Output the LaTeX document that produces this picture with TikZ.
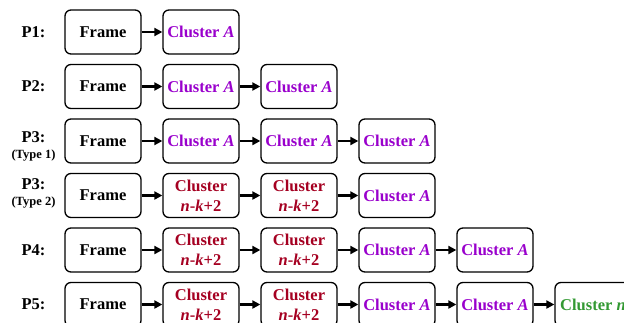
\documentclass[tikz,border=0pt]{standalone}
\usepackage{fontspec}
\setmainfont{Liberation Serif}
\usetikzlibrary{arrows.meta}
\definecolor{clA}{RGB}{153,0,204}
\definecolor{clN}{RGB}{165,0,33}
\definecolor{clM}{RGB}{51,153,51}
\tikzset{
    box/.style={draw, line width=1.3pt, rounded corners=6pt, minimum width=76pt, minimum height=44pt,
        inner sep=0pt, align=center, font=\bfseries\fontsize{16.5}{20}\selectfont},
    clustA/.style={box, text=clA},
    clustN/.style={box, text=clN},
    clustM/.style={box, text=clM},
    flow/.style={-{Triangle[length=8pt,width=8pt]}, line width=2.2pt},
    plabel/.style={align=center, font=\bfseries\fontsize{16.5}{20}\selectfont}
}
\newcommand{\cA}{Cluster \textit{A}}
\newcommand{\cN}{Cluster\\\textit{n}-\textit{k}+2}
\newcommand{\tsmall}[1]{{\fontsize{12.5}{14}\selectfont #1}}

\begin{document}
\begin{tikzpicture}[x=1pt, y=-1pt]
    \useasboundingbox (0,0) rectangle (624,322);
    \clip (0,0) rectangle (624,322);

    % row labels
    \node[plabel] (p1) at (33.5,32) {P1:};
    \node[plabel] (p2) at (33.5,86.5) {P2:};
    \node[plabel] (p3a) at (33.5,146) {P3:\\[-4pt]\tsmall{(Type 1)}};
    \node[plabel] (p3b) at (33.5,193) {P3:\\[-4pt]\tsmall{(Type 2)}};
    \node[plabel] (p4) at (33.5,250) {P4:};
    \node[plabel] (p5) at (33.5,304.5) {P5:};

    % frames
    \foreach \r/\y in {1/32,2/86.5,3/141,4/195.5,5/250,6/304.5} {
        \node[box] (f\r) at (103,\y) {Frame};
    }

    % clusters
    \node[clustA] (c11) at (201,32) {\cA};

    \node[clustA] (c21) at (201,86.5) {\cA};
    \node[clustA] (c22) at (299,86.5) {\cA};

    \node[clustA] (c31) at (201,141) {\cA};
    \node[clustA] (c32) at (299,141) {\cA};
    \node[clustA] (c33) at (397,141) {\cA};

    \node[clustN] (c41) at (201,195.5) {\cN};
    \node[clustN] (c42) at (299,195.5) {\cN};
    \node[clustA] (c43) at (397,195.5) {\cA};

    \node[clustN] (c51) at (201,250) {\cN};
    \node[clustN] (c52) at (299,250) {\cN};
    \node[clustA] (c53) at (397,250) {\cA};
    \node[clustA] (c54) at (495,250) {\cA};

    \node[clustN] (c61) at (201,304.5) {\cN};
    \node[clustN] (c62) at (299,304.5) {\cN};
    \node[clustA] (c63) at (397,304.5) {\cA};
    \node[clustA] (c64) at (495,304.5) {\cA};
    \node[clustM] (c65) at (593,304.5) {Cluster \textit{n}};

    % arrows
    \foreach \a/\b in {f1/c11, f2/c21, c21/c22, f3/c31, c31/c32, c32/c33,
        f4/c41, c41/c42, c42/c43, f5/c51, c51/c52, c52/c53, c53/c54,
        f6/c61, c61/c62, c62/c63, c63/c64, c64/c65} {
        \draw[flow] (\a) -- (\b);
    }
\end{tikzpicture}
\end{document}
